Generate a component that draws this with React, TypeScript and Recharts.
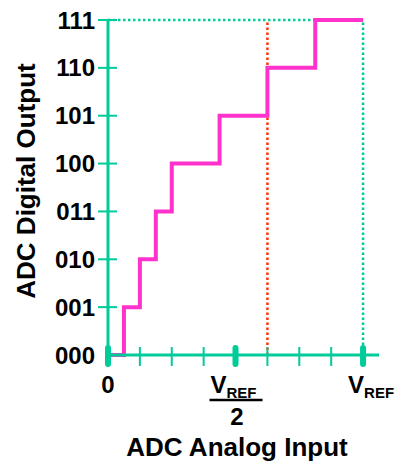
import React from 'react';
import { LineChart, Line, XAxis, YAxis, ReferenceLine, Label } from 'recharts';

// transfer curve: analog input (in VREF/8 steps) where each output code begins
const inputSteps = [0, 0.5, 1, 1.5, 2, 3.5, 5, 6.5, 8];
const outputCodes = [0, 1, 2, 3, 4, 5, 6, 7, 7];
const codeLabels = ['000', '001', '010', '011', '100', '101', '110', '111'];
const xTicks = [0, 1, 2, 3, 4, 5, 6, 7, 8];
const yTicks = [0, 1, 2, 3, 4, 5, 6, 7];
const majorTicks = [0, 4, 8];
const markerInput = 5;
const fullScale = 8;
const axisEnd = 8.5;
const topCode = 7;

const data = inputSteps.map((x, i) => ({ x, code: outputCodes[i] }));

const GREEN = '#00CC99';
const PINK = '#FF33CC';
const RED = '#FF3300';
const FONT = '"Liberation Sans", Arial, sans-serif';

const XTick = (props: any) => {
  const { x, y, payload } = props;
  const v = payload.value;
  const txt = { fontFamily: FONT, fontWeight: 700, fill: '#000' };
  return (
    <g>
      {majorTicks.includes(v) ? (
        <rect x={x - 3} y={y - 10} width={6} height={22} rx={3} fill={GREEN} />
      ) : (
        <line x1={x} x2={x} y1={y - 8} y2={y + 11} stroke={GREEN} strokeWidth={2} />
      )}
      {v === 0 && (
        <text x={x} y={y + 38} textAnchor="middle" fontSize={24} {...txt}>0</text>
      )}
      {v === 4 && (
        <g>
          <text x={x - 25} y={y + 38} fontSize={24} {...txt}>
            V<tspan fontSize={15} dy={5}>REF</tspan>
          </text>
          <line x1={x - 26} x2={x + 27} y1={y + 45} y2={y + 45} stroke="#000" strokeWidth={2.5} />
          <text x={x + 1.5} y={y + 70} textAnchor="middle" fontSize={24} {...txt}>2</text>
        </g>
      )}
      {v === 8 && (
        <text x={x - 15} y={y + 38} fontSize={24} {...txt}>
          V<tspan fontSize={15} dy={5}>REF</tspan>
        </text>
      )}
    </g>
  );
};

const YTick = (props: any) => {
  const { x, y, payload } = props;
  const v = payload.value;
  return (
    <g>
      {v !== 0 && (
        <line x1={x - 10} x2={x + 9} y1={y} y2={y} stroke={GREEN} strokeWidth={2} />
      )}
      <text x={x - 13} y={y + 8.5} textAnchor="end" fontSize={24}
        fontFamily={FONT} fontWeight={700} fill="#000">
        {codeLabels[v]}
      </text>
    </g>
  );
};

export default function App() {
  return (
    <div style={{ position: 'absolute', left: 0, top: 0, background: '#fff' }}>
      <LineChart width={403} height={468} data={data}
        margin={{ top: 20, right: 24, left: 0, bottom: 0 }}>
        <XAxis dataKey="x" type="number" domain={[0, axisEnd]} ticks={xTicks}
          interval={0} height={113} tickSize={0} tickMargin={0}
          axisLine={{ stroke: GREEN, strokeWidth: 3 }} tick={<XTick />}>
          <Label content={() => (
            <text x={237} y={456} textAnchor="middle" fontSize={26}
              fontFamily={FONT} fontWeight={700} fill="#000">ADC Analog Input</text>
          )} />
        </XAxis>
        <YAxis dataKey="code" type="number" domain={[0, topCode]} ticks={yTicks}
          interval={0} width={108} tickSize={0} tickMargin={0}
          axisLine={{ stroke: GREEN, strokeWidth: 3 }} tick={<YTick />}>
          <Label content={() => (
            <text transform="translate(35,181) rotate(-90)" textAnchor="middle" fontSize={26}
              fontFamily={FONT} fontWeight={700} fill="#000">ADC Digital Output</text>
          )} />
        </YAxis>
        <ReferenceLine segment={[{ x: 0, y: topCode }, { x: fullScale, y: topCode }]}
          stroke={GREEN} strokeWidth={2.5} strokeDasharray="2.5 2.5" />
        <ReferenceLine x={fullScale} stroke={GREEN} strokeWidth={2.5} strokeDasharray="2.5 2.5" />
        <ReferenceLine x={markerInput} stroke={RED} strokeWidth={2.5} strokeDasharray="2.5 2.5" />
        <Line type="stepAfter" dataKey="code" stroke={PINK} strokeWidth={4}
          dot={false} isAnimationActive={false} />
      </LineChart>
    </div>
  );
}
